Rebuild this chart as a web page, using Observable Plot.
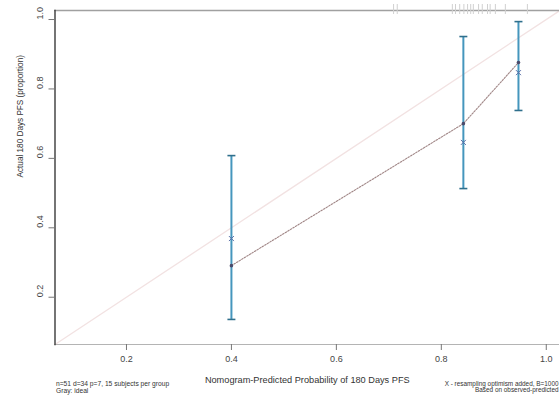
<!DOCTYPE html>
<html>
<head>
<meta charset="utf-8">
<script src="https://cdn.jsdelivr.net/npm/d3@7"></script>
<script src="https://cdn.jsdelivr.net/npm/@observablehq/plot@0.6"></script>
<style>
  html, body { margin: 0; padding: 0; background: #fff; overflow: hidden; }
  #chart svg { display: block; font-family: "Liberation Sans", Arial, sans-serif; }
</style>
</head>
<body>
<div id="chart"></div>
<script>
// Group means: nomogram-predicted 180-day PFS vs observed (Kaplan-Meier)
const predicted = [0.400, 0.842, 0.947];
const observed  = [0.291, 0.700, 0.876];
const corrected = [0.369, 0.646, 0.847];   // X: resampling optimism added
const lower     = [0.136, 0.513, 0.738];
const upper     = [0.608, 0.951, 0.994];

// distribution of predicted risks (rug along the top)
const riskDist = [0.709, 0.716, 0.821, 0.827, 0.835, 0.843, 0.850, 0.856, 0.861,
                  0.871, 0.878, 0.888, 0.893, 0.903, 0.922, 0.964];

const xTicks = [0.2, 0.4, 0.6, 0.8, 1.0];
const yTicks = [0.2, 0.4, 0.6, 0.8, 1.0];
const xDomain = [0.0638, 1.0252];
const yDomain = [0.0638, 1.026];
const ideal = xDomain;

const xLabel = "Nomogram-Predicted Probability of 180 Days PFS";
const yLabel = "Actual 180 Days PFS (proportion)";
const noteLeft = "n=51 d=34 p=7, 15 subjects per group\nGray: ideal";
const noteRight = "X - resampling optimism added, B=1000\nBased on observed-predicted";

const groups = predicted.map((p, i) => ({
  pred: p, obs: observed[i], corr: corrected[i], lo: lower[i], hi: upper[i]
}));

const capSymbol = {
  draw(context, size) {
    const w = Math.sqrt(size) / 2;
    context.moveTo(-w, 0);
    context.lineTo(w, 0);
  }
};

const W = 559, H = 403;
const mL = 54.5, mR = 0, mT = 10, mB = 59;

const chart = Plot.plot({
  width: W,
  height: H,
  marginLeft: mL,
  marginRight: mR,
  marginTop: mT,
  marginBottom: mB,
  style: {fontFamily: "'Liberation Sans', Arial, sans-serif", background: "#fff", overflow: "visible"},
  x: {domain: xDomain, axis: null},
  y: {domain: yDomain, axis: null},
  marks: [
    // ideal line
    Plot.line(ideal.map(v => ({v})), {x: "v", y: "v", stroke: "#f2e2e2", strokeWidth: 1.3}),
    // frame
    Plot.frame({anchor: "top", stroke: "#a0a0a0", strokeWidth: 1.6}),
    Plot.frame({anchor: "bottom", stroke: "#b4b4b4", strokeWidth: 1.2}),
    Plot.frame({anchor: "left", stroke: "#3a3a3a", strokeWidth: 1.4}),
    // rug of predicted risks
    Plot.ruleX(riskDist, {x: d => d, stroke: "#d0d0d0", strokeWidth: 1, insetTop: -6, insetBottom: 330}),
    // axes
    Plot.axisX(xTicks, {tickSize: 6, tickPadding: 5, fontSize: 9, color: "#444", stroke: "#777", label: null, tickFormat: d3.format(".1f")}),
    Plot.axisY(yTicks, {tickSize: 6, tickFormat: () => "", stroke: "#777", label: null}),
    Plot.text(yTicks, {y: d => d, text: d => d3.format(".1f")(d), frameAnchor: "left", dx: -15, rotate: -90, fontSize: 9, fill: "#444"}),
    // error bars
    Plot.ruleX(groups, {x: "pred", y1: "lo", y2: "hi", stroke: "#4596bd", strokeWidth: 2}),
    Plot.dot(groups, {x: "pred", y: "lo", symbol: capSymbol, r: 4.5, stroke: "#2f6f8c", strokeWidth: 1.6}),
    Plot.dot(groups, {x: "pred", y: "hi", symbol: capSymbol, r: 4.5, stroke: "#2f6f8c", strokeWidth: 1.6}),
    // observed calibration line
    Plot.line(groups, {x: "pred", y: "obs", stroke: "#a08686", strokeWidth: 1.1, strokeDasharray: "1.6,1.4"}),
    Plot.dot(groups, {x: "pred", y: "obs", r: 1.8, fill: "#4a4a6a", stroke: "none"}),
    // bias-corrected X
    Plot.dot(groups, {x: "pred", y: "corr", symbol: "times", r: 2.4, stroke: "#5a6fa8", strokeWidth: 1}),
    // labels
    Plot.text([xLabel], {frameAnchor: "bottom", dy: 38, text: d => d, fontSize: 9.2, fill: "#333"}),
    Plot.text([yLabel], {frameAnchor: "left", dx: -35, rotate: -90, text: d => d, fontSize: 8.2, fill: "#333"}),
    Plot.text([noteLeft], {frameAnchor: "bottom-left", textAnchor: "start", lineAnchor: "top", dy: 37, dx: 1, text: d => d, fontSize: 6.7, lineHeight: 1.0, fill: "#333"}),
    Plot.text([noteRight], {frameAnchor: "bottom-right", textAnchor: "end", lineAnchor: "top", dy: 37, dx: -1, text: d => d, fontSize: 6.4, lineHeight: 1.0, fill: "#333"})
  ]
});

document.getElementById("chart").appendChild(chart);
</script>
</body>
</html>
